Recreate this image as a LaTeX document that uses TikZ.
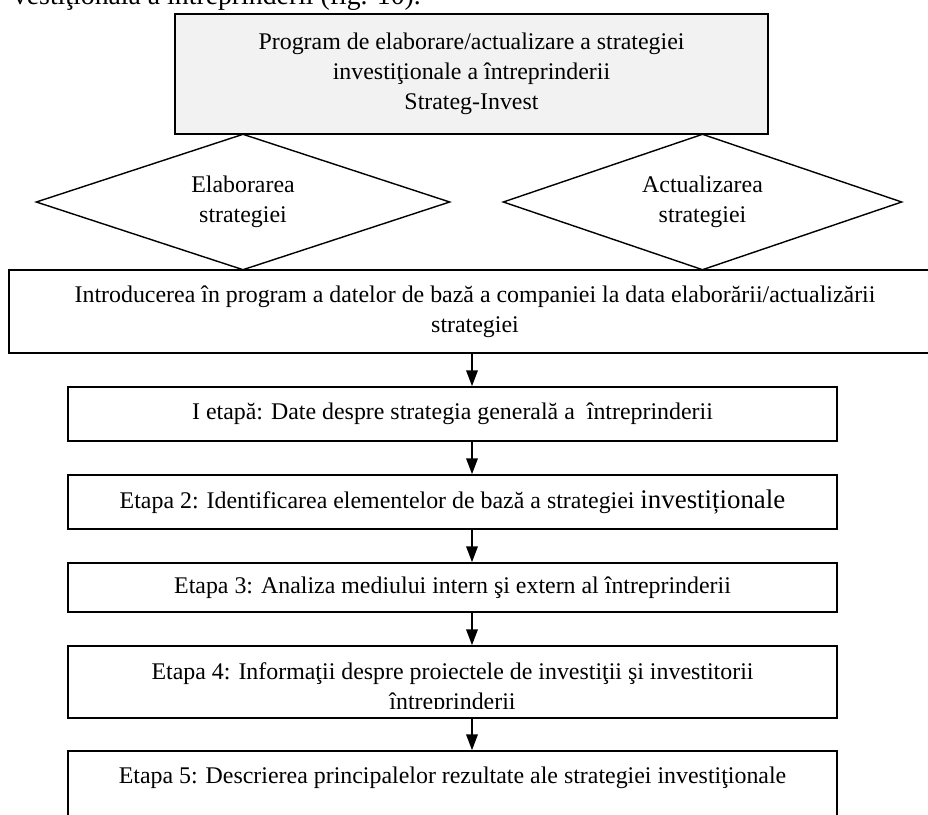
\documentclass[tikz,border=0pt]{standalone}
\usepackage{fontspec}
\setmainfont{Liberation Serif}
\usetikzlibrary{shapes.geometric,arrows.meta}
\definecolor{progfill}{HTML}{F2F2F2}

\begin{document}
\begin{tikzpicture}[x=0.02cm, y=-0.02cm,
    every node/.style={font=\fontsize{13.6}{17}\selectfont, align=center},
    stage/.style={draw, line width=0.9pt, inner sep=0pt, minimum width=15.38cm},
    choice/.style={draw, diamond, aspect=3, line width=0.8pt, inner sep=0pt, minimum height=2.72cm},
    arr/.style={-{Triangle[length=9pt,width=6.5pt]}, line width=1.1pt}]
% flowchart of the Strateg-Invest program, stages top to bottom

\useasboundingbox (0,0) rectangle (928,814);

\node[anchor=base east, font=\fontsize{15.8}{17}\selectfont] (cut) at (427,5)
    {vestiţională a întreprinderii (fig. 10).};

\node[draw, fill=progfill, line width=0.7pt, inner sep=0pt,
    minimum width=11.86cm, minimum height=2.4cm] (prog) at (471.5,74)
    {Program de elaborare/actualizare a strategiei\\
     investiţionale a întreprinderii\\ Strateg-Invest};

\node[stage, line width=1.1pt, minimum width=18.64cm, minimum height=1.66cm] (base) at (475,311.5)
    {Introducerea în program a datelor de bază a companiei la data elaborării/actualizării\\ strategiei};

\node[choice, minimum width=8.28cm] (elab) at (243,202) {Elaborarea\\ strategiei};
\node[choice, minimum width=7.98cm] (act) at (702.5,202) {Actualizarea\\ strategiei};

\node[stage, minimum height=1.08cm] (e1) at (452.5,414)
    {I etapă: Date despre strategia generală a \ întreprinderii};
\node[stage, minimum height=1.08cm] (e2) at (452.5,502)
    {Etapa 2: Identificarea elementelor de bază a strategiei {\fontsize{15.3}{17}\selectfont investiționale}};
\node[stage, minimum height=0.98cm] (e3) at (452.5,587.5)
    {Etapa 3: Analiza mediului intern şi extern al întreprinderii};
\node[stage, minimum height=1.44cm] (e4) at (452.5,682) {};
\begin{scope}
    \clip (e4.north west) rectangle (837,708);
    \node (e4 text) at (452.5,689)
        {Etapa 4: Informaţii despre proiectele de investiţii şi investitorii\\ întreprinderii};
\end{scope}
\node[stage, minimum height=1.56cm] (e5) at (452.5,790)
    {Etapa 5: Descrierea principalelor rezultate ale strategiei investiţionale\\ \mbox{}};

\coordinate (axis) at (472,0);
\draw[arr] (base.south -| axis) -- (e1.north -| axis);
\draw[arr] (e1.south -| axis) -- (e2.north -| axis);
\draw[arr] (e2.south -| axis) -- (e3.north -| axis);
\draw[arr] (e3.south -| axis) -- (e4.north -| axis);
\draw[arr] (e4.south -| axis) -- (e5.north -| axis);

\end{tikzpicture}
\end{document}
